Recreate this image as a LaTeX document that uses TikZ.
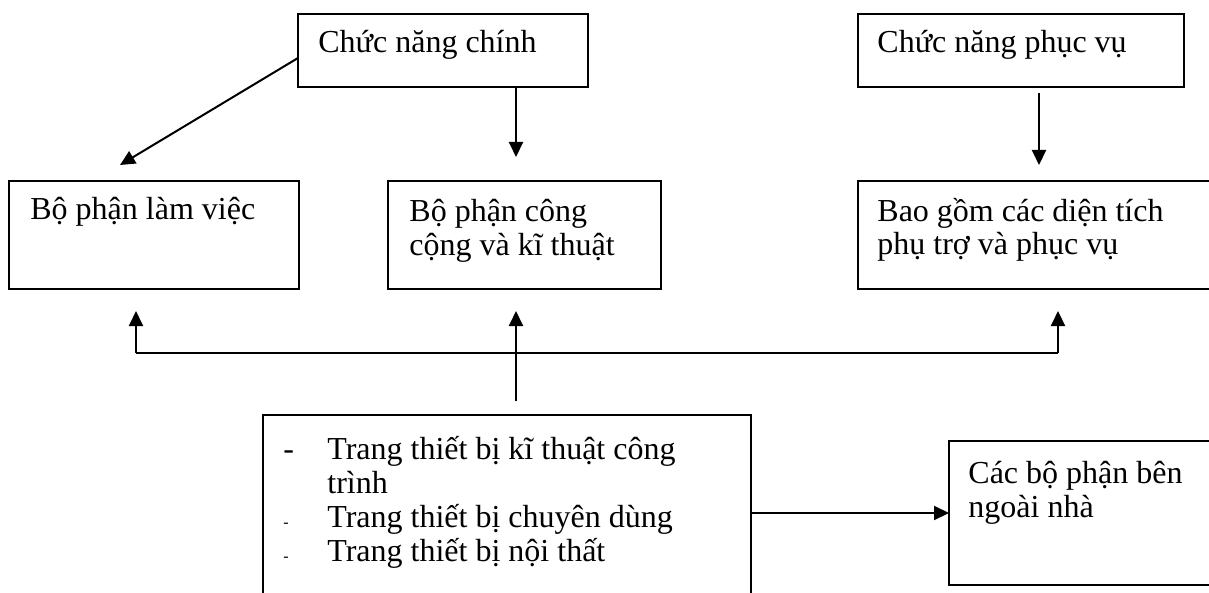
\documentclass[tikz,border=0pt]{standalone}
\usepackage{fontspec}
\setmainfont{Liberation Serif}
\usetikzlibrary{arrows.meta,fit}
\begin{document}
\begin{tikzpicture}[x=0.5pt,y=-0.5pt,
  box/.style={draw, line width=1pt, inner sep=0pt, outer sep=0pt},
  txt/.style={inner sep=0pt, anchor=base west, align=left, font=\fontsize{16}{17}\selectfont},
  arr/.style={line width=1pt, -{Triangle[length=7.5pt,width=7pt]}},
  ln/.style={line width=1pt}]
\useasboundingbox (0,0) rectangle (1209,593);
\clip (0,0) rectangle (1209,593);
% boxes
\node[box, fit={(298,14) (588,87)}] (b1) {};
\node[box, fit={(858,14) (1184,87)}] (b2) {};
\node[box, fit={(9,181) (299,289)}] (b3) {};
\node[box, fit={(388,181) (661,289)}] (b4) {};
\node[box, fit={(858,181) (1240,289)}] (b5) {};
\node[box, fit={(263,415) (751,620)}] (b6) {};
\node[box, fit={(949,441) (1240,585)}] (b7) {};
% texts (base anchor = baseline of last line)
\node[txt] (t1) at (318,53) {Chức năng chính};
\node[txt] (t2) at (877,53) {Chức năng phục vụ};
\node[txt] (t3) at (30,220) {Bộ phận làm việc};
\node[txt] (t4) at (409,256) {Bộ phận công\\cộng và kĩ thuật};
\node[txt] (t5) at (877,255) {Bao gồm các diện tích\\phụ trợ và phục vụ};
\node[txt] (t6) at (283,561) {\makebox[22pt][l]{-}Trang thiết bị kĩ thuật công\\\makebox[22pt]{}trình\\\makebox[22pt][l]{\fontsize{8}{9}\selectfont -}Trang thiết bị chuyên dùng\\\makebox[22pt][l]{\fontsize{8}{9}\selectfont -}Trang thiết bị nội thất};
\node[txt] (t7) at (968,517) {Các bộ phận bên\\ngoài nhà};
% free-end coordinates
\coordinate (c1) at (120,165);
\coordinate (c2) at (516,157);
\coordinate (c3) at (1039,165);
\coordinate (j1) at (136,353);
\coordinate (j2) at (1058,353);
\coordinate (a1) at (136,311);
\coordinate (a2) at (1058,311);
\coordinate (a3) at (516,311);
% connectors
\draw[arr] ([yshift=-3.75pt]b1.west) -- (c1);
\draw[arr] (b1.south -| c2) -- (c2);
\draw[arr] ([yshift=-3pt]b2.south -| c3) -- (c3);
\draw[ln] (j1) -- (j2);
\draw[arr] (j1) -- (a1);
\draw[arr] (j2) -- (a2);
\draw[arr] ([yshift=7pt]b6.north -| a3) -- (a3);
\draw[arr] (b6.east |- b7.west) -- (b7.west);
\end{tikzpicture}
\end{document}
